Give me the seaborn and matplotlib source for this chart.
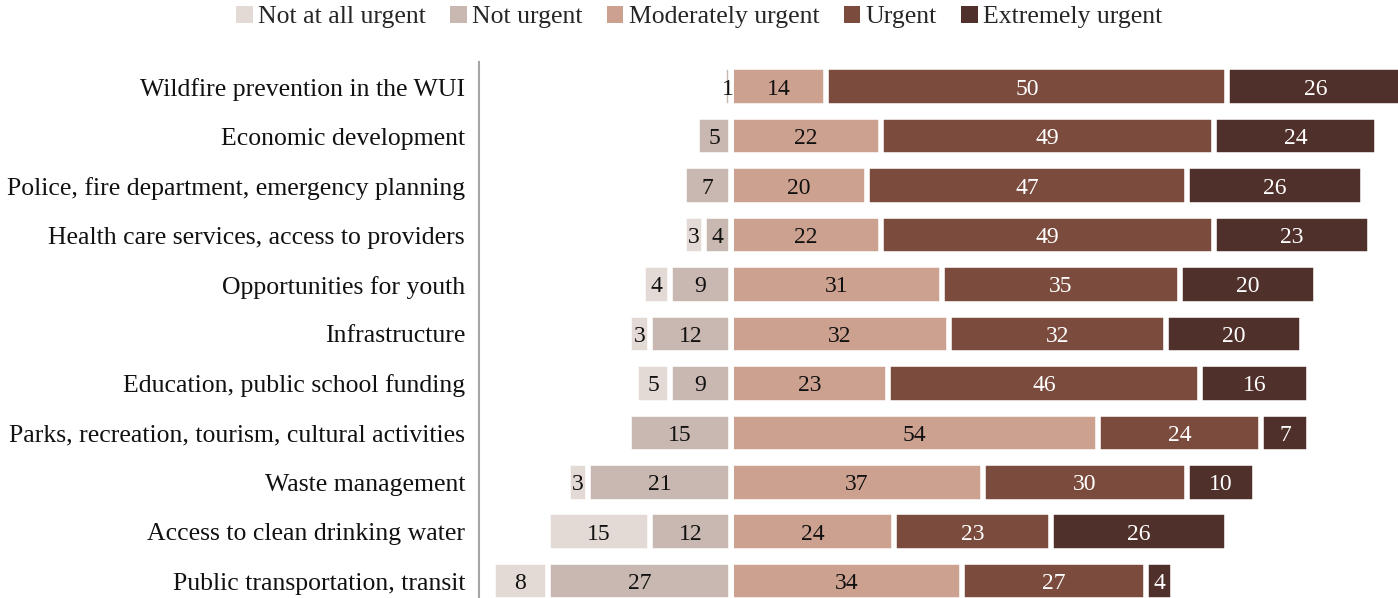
import pandas as pd
import matplotlib.pyplot as plt
import seaborn as sns
from matplotlib.patches import Patch

sns.set_style('white')
plt.rcParams['font.family'] = ['Liberation Serif', 'DejaVu Serif']

issues = ['Wildfire prevention in the WUI',
          'Economic development',
          'Police, fire department, emergency planning',
          'Health care services, access to providers',
          'Opportunities for youth',
          'Infrastructure',
          'Education, public school funding',
          'Parks, recreation, tourism, cultural activities',
          'Waste management',
          'Access to clean drinking water',
          'Public transportation, transit']

levels = ['Not at all urgent', 'Not urgent', 'Moderately urgent',
          'Urgent', 'Extremely urgent']

not_at_all = [0, 0, 0, 3, 4, 3, 5, 0, 3, 15, 8]
not_urgent = [1, 5, 7, 4, 9, 12, 9, 15, 21, 12, 27]
moderately = [14, 22, 20, 22, 31, 32, 23, 54, 37, 24, 34]
urgent     = [59, 49, 47, 49, 35, 32, 46, 24, 30, 23, 27]
extremely  = [26, 24, 26, 23, 20, 20, 16, 7, 10, 26, 4]

# the source prints "50" on the wildfire "Urgent" bar although the bar is ~59 long
label_override = {(0, 'Urgent'): '50'}

colors = ['#E3DAD6', '#C9B8B1', '#CDA190', '#7B4B3D', '#50302A']
text_colors = ['#111111', '#111111', '#111111', 'white', 'white']

df = pd.DataFrame({'issue': issues,
                   'Not at all urgent': not_at_all,
                   'Not urgent': not_urgent,
                   'Moderately urgent': moderately,
                   'Urgent': urgent,
                   'Extremely urgent': extremely})

# segment start / end for each level (negative side for the two "not" levels)
df['s_nau'] = -(df['Not at all urgent'] + df['Not urgent'])
df['s_nu'] = -df['Not urgent']
df['e_mod'] = df['Moderately urgent']
df['e_urg'] = df['e_mod'] + df['Urgent']
df['e_ext'] = df['e_urg'] + df['Extremely urgent']

fig = plt.figure(figsize=(13.98, 5.98), dpi=100)
ax = fig.add_axes([479 / 1398, 0.0, 1 - 479 / 1398, 1 - 62 / 598])

bar_kw = dict(y='issue', orient='h', width=0.78, edgecolor='white',
              linewidth=4, errorbar=None, saturation=1, ax=ax)
# draw the cumulative bars from the outside in so each segment overlays the previous
sns.barplot(data=df, x='e_ext', color=colors[4], **bar_kw)
sns.barplot(data=df, x='e_urg', color=colors[3], **bar_kw)
sns.barplot(data=df, x='e_mod', color=colors[2], **bar_kw)
sns.barplot(data=df, x='s_nau', color=colors[0], **bar_kw)
sns.barplot(data=df, x='s_nu', color=colors[1], **bar_kw)

# value labels in the middle of every segment
starts = {'Not at all urgent': df['s_nau'],
          'Not urgent': df['s_nu'],
          'Moderately urgent': 0 * df['e_mod'],
          'Urgent': df['e_mod'],
          'Extremely urgent': df['e_urg']}
for j, lev in enumerate(levels):
    for i in range(len(df)):
        v = df[lev].iloc[i]
        if v == 0:
            continue
        mid = starts[lev].iloc[i] + v / 2
        txt = label_override.get((i, lev), f'{v}')
        ax.text(mid, i + 0.05, txt, ha='center', va='center',
                fontsize=17, color=text_colors[j])

ax.set_xlim(-37.1, 98.1)
ax.set_ylim(10.34, -0.5)
ax.set_xlabel('')
ax.set_ylabel('')
ax.set_xticks([])
ax.tick_params(axis='y', length=0, pad=10, labelsize=18.5, labelcolor='#111111')
for side in ['top', 'right', 'bottom']:
    ax.spines[side].set_visible(False)
ax.spines['left'].set_color('#A6A6A6')
ax.spines['left'].set_linewidth(1.5)

handles = [Patch(facecolor=c, edgecolor='none', label=l) for c, l in zip(colors, levels)]
fig.legend(handles=handles, loc='center', bbox_to_anchor=(0.5, 1 - 17 / 598),
           ncol=5, frameon=False, fontsize=18.5, handlelength=0.65,
           handleheight=0.65, handletextpad=0.2, columnspacing=0.95)

plt.savefig('out.png', dpi=100)
plt.close(fig)
